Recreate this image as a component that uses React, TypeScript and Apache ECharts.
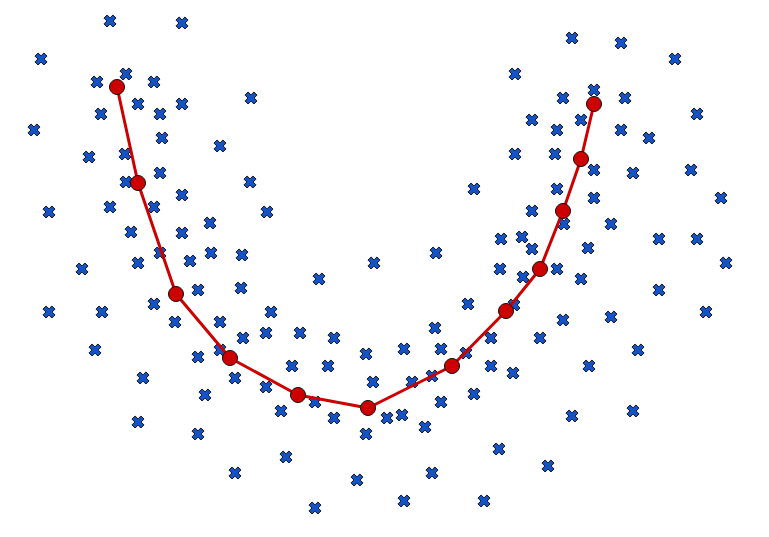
import React, { useEffect, useRef } from "react";
import * as echarts from "echarts";

// Scatter sample points (x, y in picture units, y grows downward)
const scatterX = [
  110, 182, 41, 97, 126, 154, 138, 101, 160, 182, 251, 34, 162, 220, 89, 125, 160, 126, 250, 182,
  49, 110, 154, 210, 131, 182, 160, 211, 242, 190, 138, 82, 198, 241, 49, 102, 154, 175, 220, 243,
  95, 198, 220, 143, 235, 205, 138, 198, 235,
  366, 404, 441, 466, 292, 328, 491, 513, 266, 315, 373, 412, 432, 281, 334, 387, 402, 441, 474,
  425, 366, 286, 499, 432, 357, 404, 484, 315,
  589, 638, 572, 633, 548,
  474, 267, 501, 436, 374, 500, 319, 468, 271, 435, 266, 300, 334, 491, 514,
  557, 594, 721, 532, 564, 611, 522, 532, 588, 659, 697, 726, 557, 523, 581, 659, 706, 563, 611, 540,
  572, 621, 675, 515, 594, 563, 625, 697, 532, 581, 557, 621, 649, 515, 555, 594, 633, 691,
];
const scatterY = [
  21, 23, 59, 82, 74, 82, 104, 114, 114, 104, 98, 130, 138, 146, 157, 154, 173, 182, 182, 195,
  212, 207, 207, 223, 232, 233, 253, 253, 255, 261, 263, 269, 290, 288, 312, 312, 304, 322, 322, 338,
  350, 357, 350, 378, 378, 395, 422, 434, 473,
  354, 349, 349, 353, 366, 366, 366, 373, 387, 402, 382, 382, 376, 411, 418, 418, 415, 402, 394,
  427, 434, 457, 449, 473, 480, 501, 501, 508,
  366, 350, 416, 411, 466,
  189, 212, 239, 253, 263, 269, 279, 304, 312, 328, 333, 333, 338, 338, 305,
  189, 198, 198, 211, 224, 224, 237, 249, 248, 239, 239, 263, 269, 277, 279, 290, 312, 320, 317, 338,
  38, 43, 59, 74, 90, 98, 98, 114, 120, 120, 130, 130, 138, 154, 154, 170, 173, 170,
];

// Fitted curve points
const curveX = [117, 138, 176, 230, 298, 368, 452, 506, 540, 563, 581, 594];
const curveY = [87, 183, 294, 358, 395, 408, 366, 311, 269, 211, 159, 104];

const X_PATH =
  "path://M2.6,0 L5,2.4 L7.4,0 L10,2.6 L7.6,5 L10,7.4 L7.4,10 L5,7.6 L2.6,10 L0,7.4 L2.4,5 L0,2.6 Z";

export default function App() {
  const ref = useRef<HTMLDivElement>(null);
  useEffect(() => {
    if (!ref.current) return;
    const chart = echarts.init(ref.current, undefined, { renderer: "svg" });
    const scatterData = scatterX.map((x, i) => [x, scatterY[i]]);
    const curveData = curveX.map((x, i) => [x, curveY[i]]);
    chart.setOption({
      animation: false,
      backgroundColor: "#ffffff",
      grid: { left: 0, right: 0, top: 0, bottom: 0 },
      xAxis: { type: "value", min: 0, max: 769, show: false },
      yAxis: { type: "value", min: 0, max: 537, inverse: true, show: false },
      series: [
        {
          type: "scatter",
          data: scatterData,
          symbol: X_PATH,
          symbolSize: 12,
          itemStyle: { color: "#1452c8", borderColor: "#111111", borderWidth: 1, opacity: 1 },
          z: 2,
        },
        {
          type: "line",
          data: curveData,
          symbol: "circle",
          symbolSize: 15,
          showSymbol: true,
          lineStyle: { color: "#cc0000", width: 3 },
          itemStyle: { color: "#cc0000", borderColor: "#111111", borderWidth: 1, opacity: 1 },
          z: 3,
        },
      ],
    });
    return () => chart.dispose();
  }, []);
  return (
    <div
      ref={ref}
      style={{ position: "fixed", left: 0, top: 0, width: 769, height: 537 }}
    />
  );
}
